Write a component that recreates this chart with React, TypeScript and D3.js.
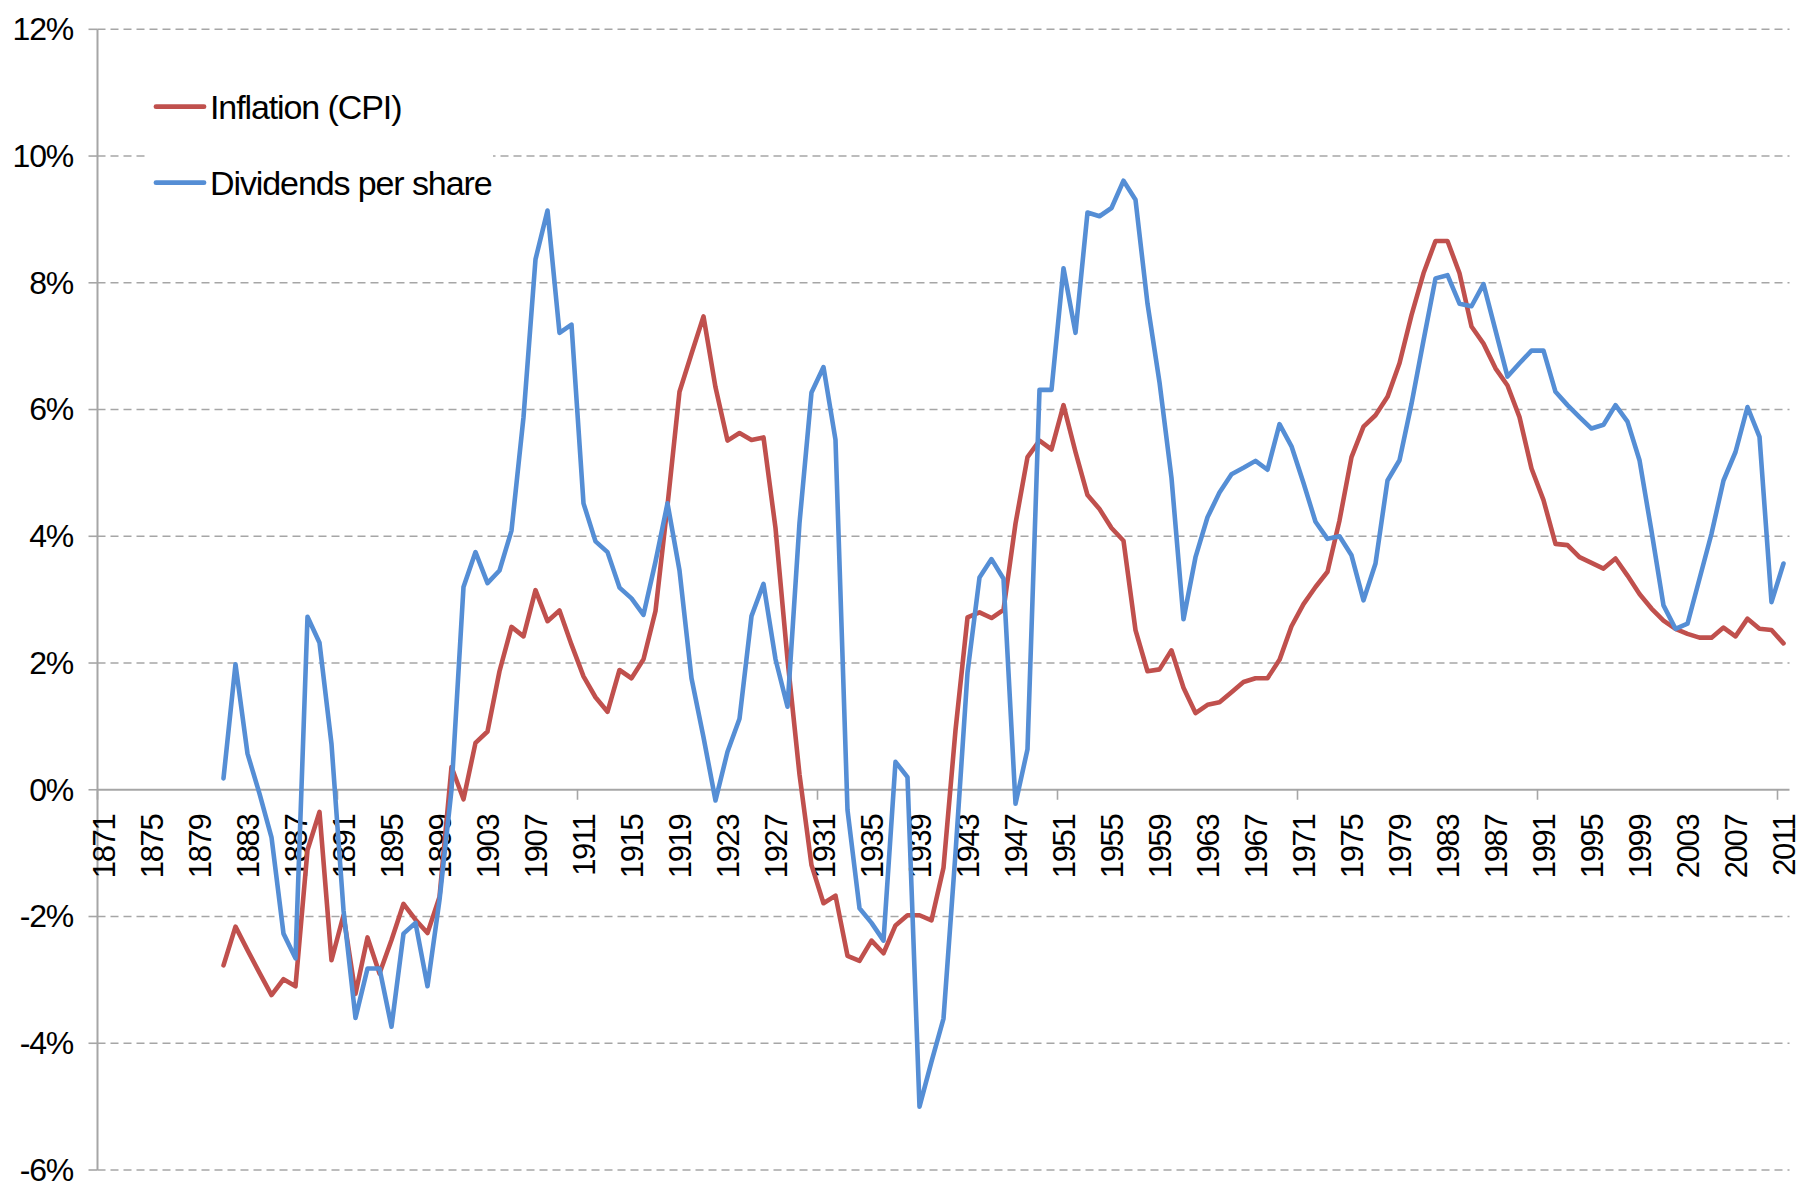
import React, { useEffect, useRef } from 'react';
import * as d3 from 'd3';

// categories on the x axis (one per year)
const firstYear = 1871;
const lastYear = 2011;
const categories = d3.range(firstYear, lastYear + 1);
const tickLabels = categories.filter((y) => (y - firstYear) % 4 === 0);
const yTicks = [-6, -4, -2, 0, 2, 4, 6, 8, 10, 12];

// both series start in 1881
const seriesStart = 1881;

const inflation = [
  -2.77, -2.16, -2.53, -2.89, -3.24, -2.99, -3.1, -0.95, -0.35, -2.69,
  -1.98, -3.22, -2.33, -2.9, -2.37, -1.8, -2.05, -2.26, -1.69, 0.36,
  -0.15, 0.74, 0.92, 1.87, 2.57, 2.42, 3.15, 2.66, 2.83, 2.29,
  1.79, 1.46, 1.23, 1.89, 1.76, 2.06, 2.82, 4.49, 6.28, 6.88,
  7.47, 6.35, 5.51, 5.63, 5.52, 5.56, 4.13, 2.06, 0.24, -1.19,
  -1.79, -1.67, -2.62, -2.7, -2.38, -2.58, -2.14, -1.98, -1.98, -2.06,
  -1.23, 0.94, 2.72, 2.8, 2.71, 2.84, 4.2, 5.25, 5.51, 5.37,
  6.07, 5.33, 4.65, 4.43, 4.13, 3.93, 2.52, 1.87, 1.9, 2.2,
  1.61, 1.21, 1.34, 1.38, 1.54, 1.7, 1.76, 1.76, 2.05, 2.58,
  2.93, 3.2, 3.44, 4.25, 5.25, 5.73, 5.91, 6.2, 6.73, 7.49,
  8.15, 8.66, 8.66, 8.15, 7.31, 7.04, 6.65, 6.38, 5.88, 5.07,
  4.57, 3.88, 3.86, 3.67, 3.58, 3.49, 3.65, 3.38, 3.09, 2.86,
  2.67, 2.54, 2.46, 2.4, 2.4, 2.56, 2.42, 2.7, 2.54, 2.52,
  2.31,
];

const dividends = [
  0.18, 1.98, 0.57, -0.06, -0.75, -2.27, -2.66, 2.73, 2.32, 0.72,
  -1.9, -3.6, -2.82, -2.82, -3.74, -2.27, -2.1, -3.1, -1.74, 0.0,
  3.2, 3.75, 3.26, 3.46, 4.09, 5.88, 8.37, 9.14, 7.21, 7.34,
  4.52, 3.92, 3.75, 3.19, 3.02, 2.76, 3.6, 4.52, 3.46, 1.76,
  0.83, -0.17, 0.6, 1.12, 2.74, 3.25, 2.06, 1.31, 4.21, 6.27,
  6.67, 5.52, -0.32, -1.87, -2.1, -2.38, 0.44, 0.2, -5.0, -4.29,
  -3.61, -1.0, 1.85, 3.35, 3.64, 3.33, -0.22, 0.64, 6.31, 6.31,
  8.23, 7.21, 9.11, 9.05, 9.18, 9.61, 9.31, 7.67, 6.43, 4.92,
  2.69, 3.67, 4.3, 4.69, 4.98, 5.08, 5.19, 5.05, 5.77, 5.42,
  4.84, 4.23, 3.96, 4.0, 3.7, 2.99, 3.57, 4.88, 5.2, 6.09,
  7.09, 8.07, 8.12, 7.67, 7.63, 7.98, 7.25, 6.52, 6.73, 6.93,
  6.93, 6.28, 6.07, 5.88, 5.7, 5.76, 6.07, 5.81, 5.2, 4.08,
  2.91, 2.54, 2.62, 3.33, 4.04, 4.88, 5.33, 6.04, 5.57, 2.96,
  3.57,
];

const seriesNames = ['Inflation (CPI)', 'Dividends per share'];
const seriesColors = ['#C0504D', '#558ED5'];

const useD3 = (render: (svg: d3.Selection<SVGSVGElement, unknown, null, undefined>) => void) => {
  const ref = useRef<SVGSVGElement>(null);
  useEffect(() => {
    const svg = d3.select(ref.current as SVGSVGElement);
    svg.selectAll('*').remove();
    render(svg);
  }, []);
  return ref;
};

const App = () => {
  const width = 1798;
  const height = 1185;
  const plot = { left: 97.5, right: 1789.5, top: 29.3, bottom: 1170 };
  const font = '"Liberation Sans", Arial, Helvetica, sans-serif';
  const axisGrey = '#a6a6a6';

  const ref = useD3((svg) => {
    const x = d3.scaleBand<number>()
      .domain(categories)
      .range([plot.left, plot.right])
      .padding(0);
    const y = d3.scaleLinear()
      .domain([-6, 12])
      .range([plot.bottom, plot.top]);
    const cx = (yr: number) => (x(yr) as number) + x.bandwidth() / 2;

    // gridlines (dashed), skipping zero which is the category axis
    svg.append('g')
      .selectAll('line')
      .data(yTicks.filter((d) => d !== 0))
      .enter()
      .append('line')
      .attr('x1', plot.left)
      .attr('x2', plot.right)
      .attr('y1', (d) => y(d))
      .attr('y2', (d) => y(d))
      .attr('stroke', axisGrey)
      .attr('stroke-width', 1.6)
      .attr('stroke-dasharray', '8,5');

    // value axis
    const yAxis = svg.append('g');
    yAxis.append('line')
      .attr('x1', plot.left).attr('x2', plot.left)
      .attr('y1', plot.top).attr('y2', plot.bottom)
      .attr('stroke', axisGrey).attr('stroke-width', 2);
    yAxis.selectAll('line.tick')
      .data(yTicks).enter()
      .append('line')
      .attr('class', 'tick')
      .attr('x1', plot.left - 9).attr('x2', plot.left)
      .attr('y1', (d) => y(d)).attr('y2', (d) => y(d))
      .attr('stroke', axisGrey).attr('stroke-width', 1.6);
    yAxis.selectAll('text')
      .data(yTicks).enter()
      .append('text')
      .attr('x', 73)
      .attr('y', (d) => y(d))
      .attr('dy', '0.34em')
      .attr('text-anchor', 'end')
      .attr('font-family', font)
      .attr('font-size', 32)
      .attr('letter-spacing', -1.2)
      .attr('fill', '#000')
      .text((d) => `${d}%`);

    // category axis at 0%
    const xAxis = svg.append('g');
    xAxis.append('line')
      .attr('x1', plot.left).attr('x2', plot.right)
      .attr('y1', y(0)).attr('y2', y(0))
      .attr('stroke', axisGrey).attr('stroke-width', 2);
    xAxis.selectAll('line.tick')
      .data(categories.filter((c) => (c - firstYear) % 20 === 0)).enter()
      .append('line')
      .attr('class', 'tick')
      .attr('x1', (d) => x(d) as number).attr('x2', (d) => x(d) as number)
      .attr('y1', y(0)).attr('y2', y(0) + 10)
      .attr('stroke', axisGrey).attr('stroke-width', 1.6);
    xAxis.selectAll('text')
      .data(tickLabels).enter()
      .append('text')
      .attr('transform', (d) => `translate(${cx(d)}, ${y(0) + 25}) rotate(-90)`)
      .attr('dy', '0.36em')
      .attr('text-anchor', 'end')
      .attr('font-family', font)
      .attr('font-size', 31)
      .attr('letter-spacing', -1.4)
      .attr('fill', '#000')
      .text((d) => d);

    // series lines
    const line = d3.line<number>()
      .x((_, i) => cx(seriesStart + i))
      .y((d) => y(d));

    [inflation, dividends].forEach((values, i) => {
      svg.append('path')
        .datum(values)
        .attr('fill', 'none')
        .attr('stroke', seriesColors[i])
        .attr('stroke-width', 4.6)
        .attr('stroke-linejoin', 'round')
        .attr('stroke-linecap', 'round')
        .attr('d', line);
    });

    // legend, boxed in white over the gridlines
    const legend = svg.append('g');
    legend.append('rect')
      .attr('x', 145).attr('y', 58)
      .attr('width', 348).attr('height', 152)
      .attr('fill', '#fff');
    seriesNames.forEach((name, i) => {
      const ly = 106.7 + i * 76;
      legend.append('line')
        .attr('x1', 156).attr('x2', 204)
        .attr('y1', ly).attr('y2', ly)
        .attr('stroke', seriesColors[i])
        .attr('stroke-width', 4.8)
        .attr('stroke-linecap', 'round');
      legend.append('text')
        .attr('x', 210)
        .attr('y', ly + 11.8)
        .attr('font-family', font)
        .attr('font-size', 34)
        .attr('letter-spacing', -1.1)
        .attr('fill', '#000')
        .text(name);
    });
  });

  return (
    <div style={{ position: 'absolute', left: 0, top: 0, width, height, background: '#fff' }}>
      <svg ref={ref} width={width} height={height} style={{ display: 'block' }} />
    </div>
  );
};

export default App;
